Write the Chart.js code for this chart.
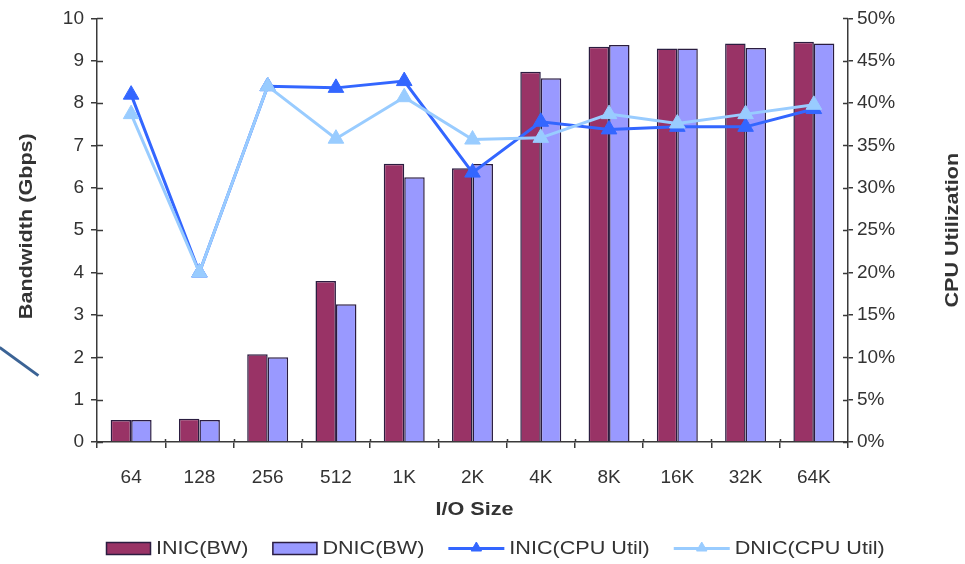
<!DOCTYPE html>
<html>
<head>
<meta charset="utf-8">
<title>Bandwidth and CPU Utilization by I/O Size</title>
<script src="https://cdn.jsdelivr.net/npm/chart.js@4/dist/chart.umd.min.js"></script>
<style>
  html, body { margin: 0; padding: 0; background: #ffffff; }
  #wrap { position: relative; width: 965px; height: 564px; overflow: hidden; }
  #chart { display: block; }
  /* short pointer stroke at the left edge */
  .pointer {
    position: absolute; left: -5px; top: 360px; width: 48px; height: 3px;
    background: #3b6395; transform: rotate(36deg); transform-origin: 50% 50%;
  }
</style>
</head>
<body>
<div id="wrap">
  <canvas id="chart" width="965" height="564"></canvas>
  <div class="pointer"></div>
</div>
<script>
// I/O sizes on the category axis
const ioSizes = ['64', '128', '256', '512', '1K', '2K', '4K', '8K', '16K', '32K', '64K'];

// Bandwidth in Gbps (left axis)
const inicBw = [0.52, 0.55, 2.07, 3.80, 6.57, 6.46, 8.74, 9.33, 9.29, 9.41, 9.45];
const dnicBw = [0.52, 0.52, 2.00, 3.25, 6.25, 6.56, 8.59, 9.37, 9.29, 9.30, 9.41];

// CPU utilization in percent (right axis)
const inicCpu = [41.0, 20.0, 42.0, 41.8, 42.6, 31.8, 37.8, 36.9, 37.2, 37.2, 39.3];
const dnicCpu = [38.7, 20.0, 42.0, 35.8, 40.7, 35.7, 35.9, 38.7, 37.6, 38.7, 39.8];

// Axis ranges and tick steps
const bwAxis = { min: 0, max: 10, step: 1 };
const cpuAxis = { min: 0, max: 50, step: 5 };

const FONT = '"Liberation Sans", Arial, Helvetica, sans-serif';
const TEXT = '#333333';
const AXIS = '#3a3a3a';
const STRETCH = 1.2; // wide lettering for titles and legend

// Fill the canvas white
const whiteBg = {
  id: 'whiteBg',
  beforeDraw(chart) {
    const c = chart.ctx;
    c.save();
    c.fillStyle = '#ffffff';
    c.fillRect(0, 0, chart.width, chart.height);
    c.restore();
  }
};

// Tick marks cross the axis lines
const crossTicks = {
  id: 'crossTicks',
  afterDraw(chart) {
    const c = chart.ctx;
    const area = chart.chartArea;
    const xs = chart.scales.x;
    c.save();
    c.strokeStyle = AXIS;
    c.lineWidth = 1.5;
    c.beginPath();
    chart.scales.y.ticks.forEach((t, i) => {
      const p = Math.round(chart.scales.y.getPixelForTick(i)) + 0.5;
      c.moveTo(area.left, p); c.lineTo(area.left + 6, p);
    });
    chart.scales.y1.ticks.forEach((t, i) => {
      const p = Math.round(chart.scales.y1.getPixelForTick(i)) + 0.5;
      c.moveTo(area.right - 5, p); c.lineTo(area.right, p);
    });
    for (let i = 1; i < xs.ticks.length; i++) {
      const p = Math.round((xs.getPixelForTick(i - 1) + xs.getPixelForTick(i)) / 2) + 0.5;
      c.moveTo(p, area.bottom); c.lineTo(p, area.bottom - 3);
    }
    c.stroke();
    c.restore();
  }
};

function stretchedText(c, text, x, y, rot, font, align) {
  c.save();
  c.translate(x, y);
  c.rotate(rot);
  c.scale(STRETCH, 1);
  c.font = font;
  c.fillStyle = TEXT;
  c.textAlign = align || 'center';
  c.textBaseline = 'middle';
  c.fillText(text, 0, 0);
  c.restore();
}

// Axis titles
const axisTitles = {
  id: 'axisTitles',
  afterDraw(chart) {
    const c = chart.ctx;
    const a = chart.chartArea;
    const midY = (a.top + a.bottom) / 2;
    const bold = 'bold 18px ' + FONT;
    stretchedText(c, 'Bandwidth (Gbps)', 27, midY - 4, -Math.PI / 2, bold);
    stretchedText(c, 'CPU Utilization', 953, midY, -Math.PI / 2, bold);
    stretchedText(c, 'I/O Size', (a.left + a.right) / 2 + 2, 510, 0, bold);
  }
};

// Legend row under the axis title
const legendRow = {
  id: 'legendRow',
  afterDraw(chart) {
    const c = chart.ctx;
    const y = 548;
    const font = '18px ' + FONT;
    c.save();
    c.font = font;
    const items = chart.data.datasets.map(ds => ({
      ds,
      kind: ds.type,
      sym: ds.type === 'bar' ? 45 : 56,
      tw: c.measureText(ds.label).width * STRETCH
    }));
    const gap = 24, symGap = 5;
    let x = 106;
    items.forEach(it => {
      if (it.kind === 'bar') {
        c.fillStyle = it.ds.backgroundColor;
        c.strokeStyle = it.ds.borderColor;
        c.lineWidth = 1.5;
        c.fillRect(x, y - 6, it.sym, 13);
        c.strokeRect(x + 0.5, y - 5.5, it.sym - 1, 12);
      } else {
        c.strokeStyle = it.ds.borderColor;
        c.lineWidth = 3;
        c.beginPath();
        c.moveTo(x, y + 0.5); c.lineTo(x + it.sym, y + 0.5);
        c.stroke();
        c.fillStyle = it.ds.backgroundColor;
        c.lineWidth = 1;
        Chart.helpers.drawPoint(c, {
          pointStyle: 'triangle', radius: 6, borderWidth: 1, rotation: 0
        }, x + it.sym / 2, y);
      }
      stretchedText(c, it.ds.label, x + it.sym + symGap, y + 1, 0, font, 'left');
      x += it.sym + symGap + it.tw + gap;
    });
    c.restore();
  }
};

const ctx = document.getElementById('chart').getContext('2d');
new Chart(ctx, {
  data: {
    labels: ioSizes,
    datasets: [
      {
        type: 'bar', label: 'INIC(BW)', data: inicBw, yAxisID: 'y',
        backgroundColor: '#993366', borderColor: '#2b1d40', borderWidth: 1.5,
        borderSkipped: 'bottom', categoryPercentage: 0.6, barPercentage: 1.0, order: 3
      },
      {
        type: 'bar', label: 'DNIC(BW)', data: dnicBw, yAxisID: 'y',
        backgroundColor: '#9999FF', borderColor: '#2b1d40', borderWidth: 1.5,
        borderSkipped: 'bottom', categoryPercentage: 0.6, barPercentage: 1.0, order: 3
      },
      {
        type: 'line', label: 'INIC(CPU Util)', data: inicCpu, yAxisID: 'y1',
        borderColor: '#3366FF', backgroundColor: '#3366FF', borderWidth: 3,
        pointStyle: 'triangle', pointRadius: 9, pointBorderWidth: 1,
        tension: 0, fill: false, order: 1
      },
      {
        type: 'line', label: 'DNIC(CPU Util)', data: dnicCpu, yAxisID: 'y1',
        borderColor: '#99CCFF', backgroundColor: '#99CCFF', borderWidth: 3,
        pointStyle: 'triangle', pointRadius: 9, pointBorderWidth: 1,
        tension: 0, fill: false, order: 0
      }
    ]
  },
  options: {
    responsive: false,
    animation: false,
    devicePixelRatio: 1,
    layout: { padding: { top: 16, left: 0, right: 0, bottom: 0 } },
    plugins: {
      legend: { display: false },
      tooltip: { enabled: false },
      title: { display: false }
    },
    scales: {
      x: {
        offset: true,
        grid: {
          display: true, offset: true, drawOnChartArea: false,
          tickLength: 6, color: AXIS, lineWidth: 1.5
        },
        border: { display: true, color: AXIS, width: 1.5 },
        ticks: { color: TEXT, font: { family: FONT, size: 19 }, padding: 18, maxRotation: 0 },
        afterFit(s) { s.height = 122; }
      },
      y: {
        position: 'left',
        min: bwAxis.min, max: bwAxis.max,
        grid: { drawOnChartArea: false, tickLength: 6, color: AXIS, lineWidth: 1.5 },
        border: { display: true, color: AXIS, width: 1.5 },
        ticks: { stepSize: bwAxis.step, color: TEXT, font: { family: FONT, size: 19 }, padding: 7 },
        afterFit(s) { s.width = 97; }
      },
      y1: {
        position: 'right',
        min: cpuAxis.min, max: cpuAxis.max,
        grid: { drawOnChartArea: false, tickLength: 5, color: AXIS, lineWidth: 1.5 },
        border: { display: true, color: AXIS, width: 1.5 },
        ticks: {
          stepSize: cpuAxis.step, color: TEXT, font: { family: FONT, size: 19 }, padding: 4,
          callback: v => v + '%'
        },
        afterFit(s) { s.width = 117; }
      }
    }
  },
  plugins: [whiteBg, crossTicks, axisTitles, legendRow]
});
</script>
</body>
</html>
